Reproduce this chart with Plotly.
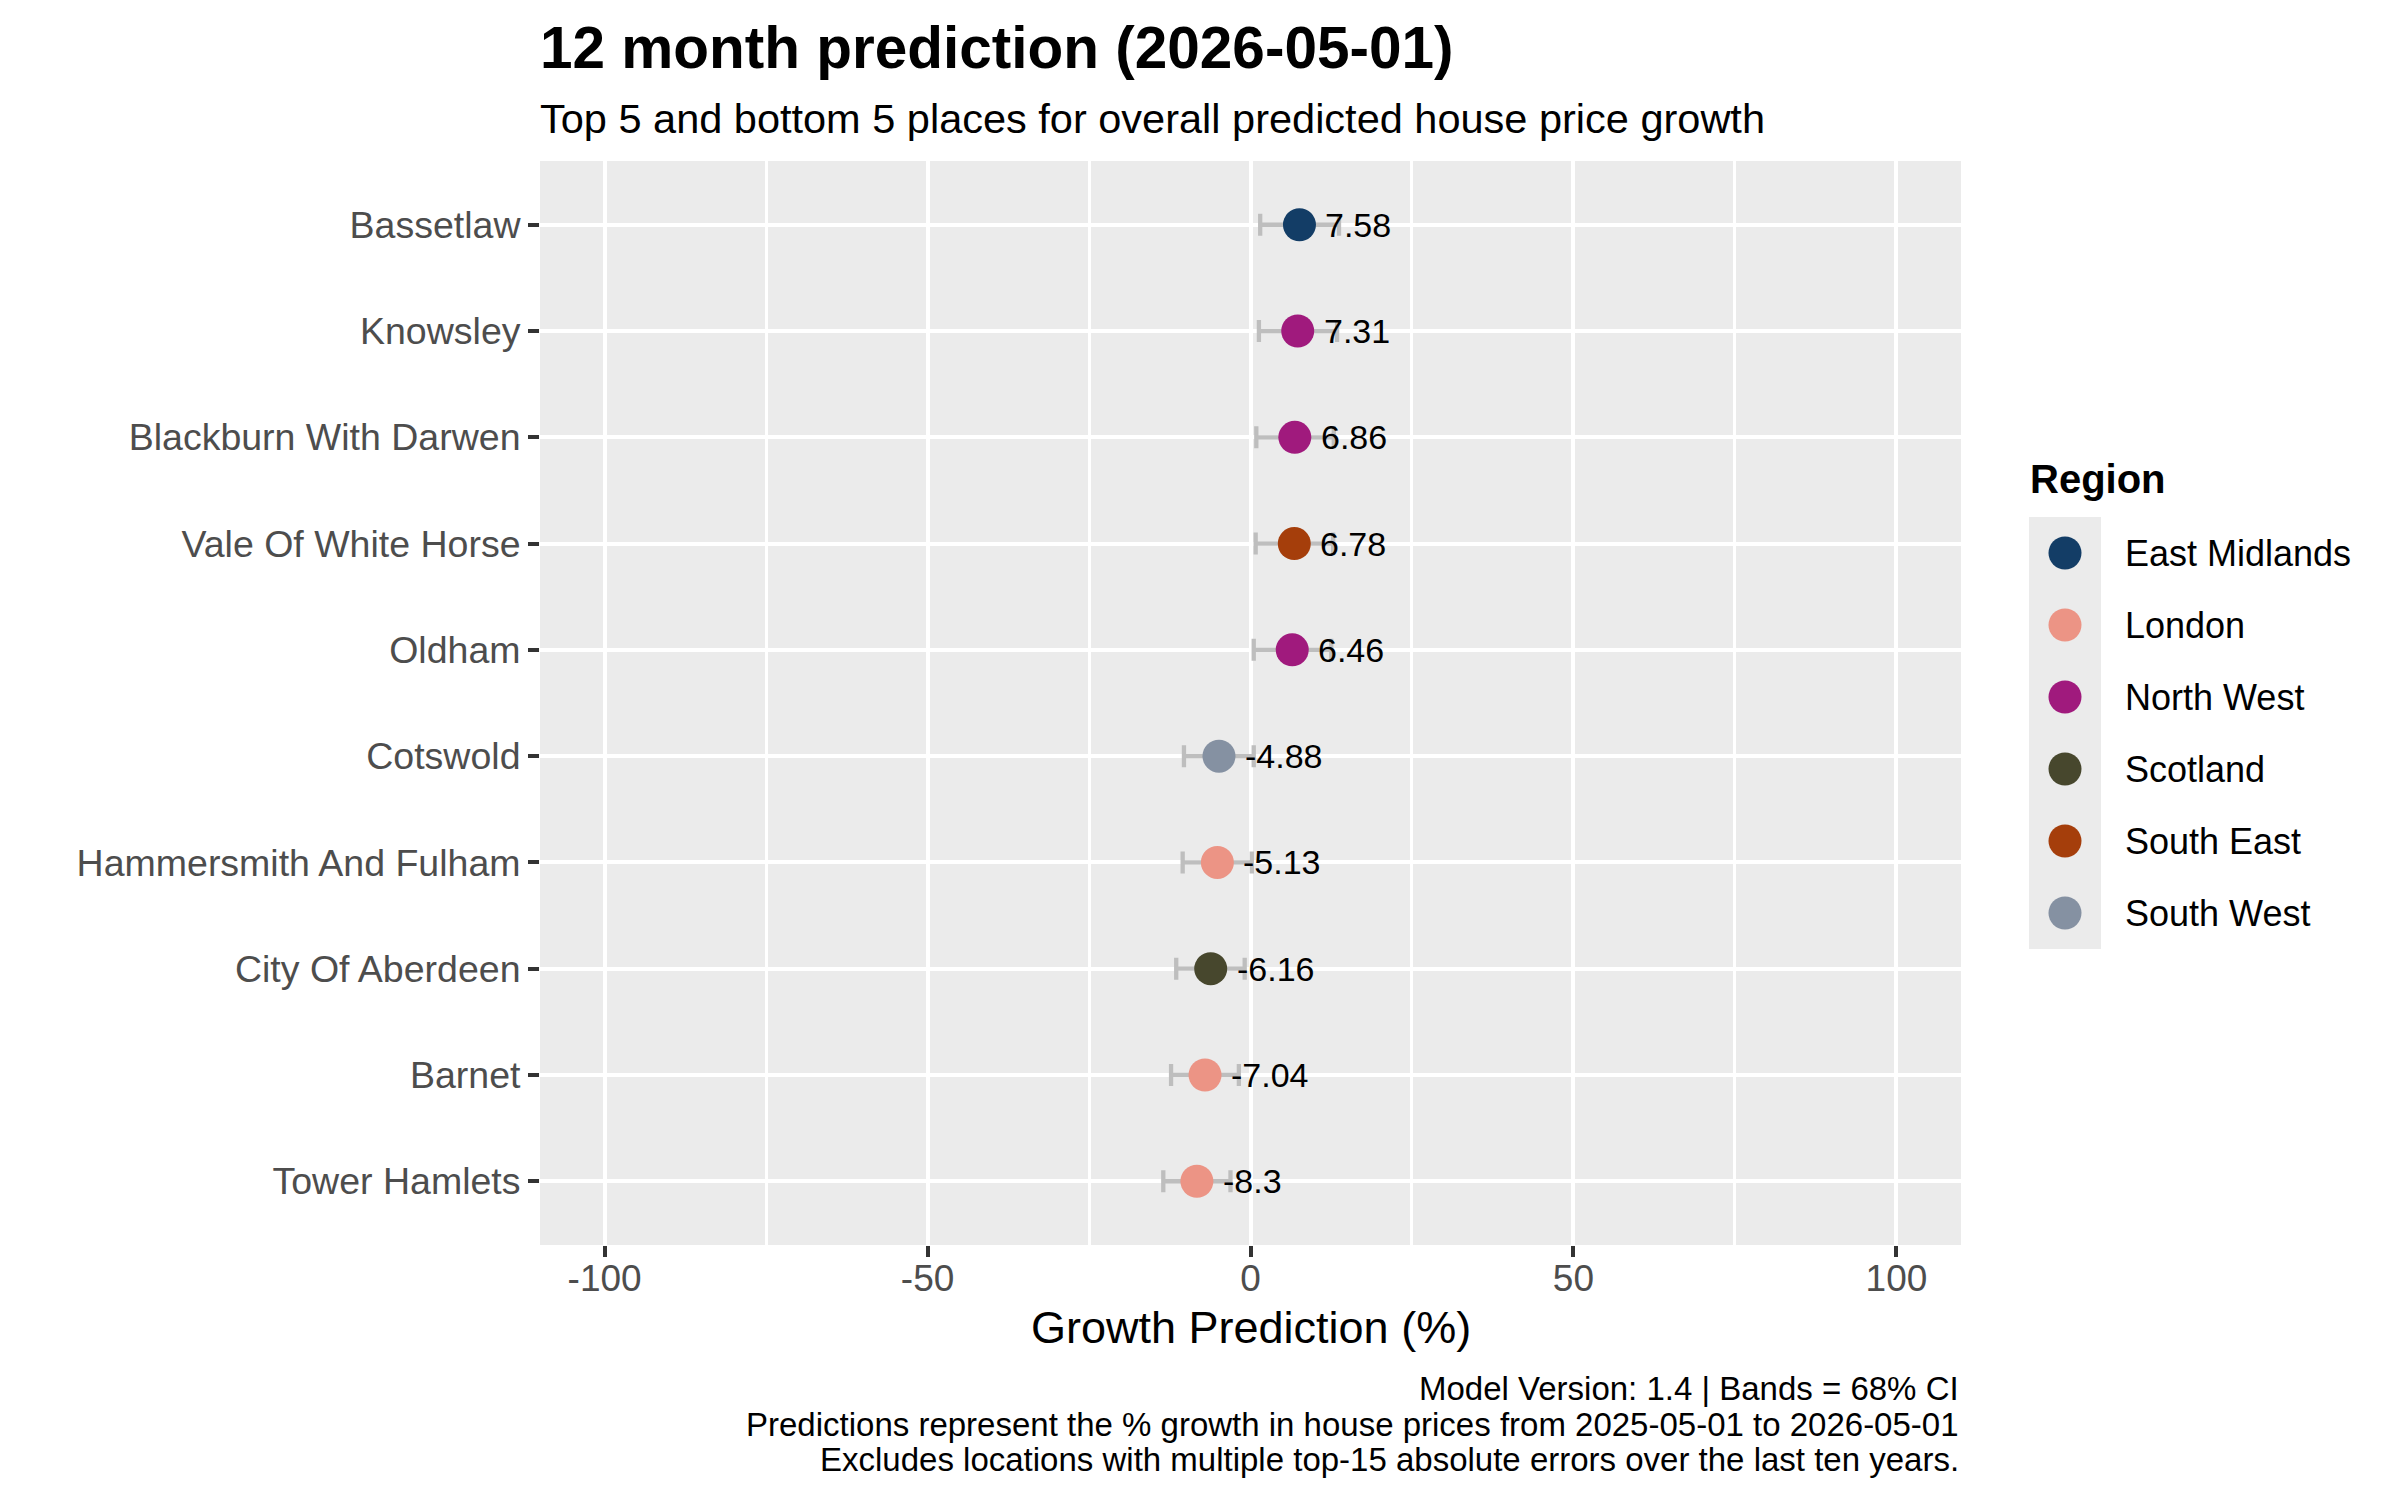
import plotly.graph_objects as go

# data
places = ["Bassetlaw", "Knowsley", "Blackburn With Darwen", "Vale Of White Horse", "Oldham",
          "Cotswold", "Hammersmith And Fulham", "City Of Aberdeen", "Barnet", "Tower Hamlets"]
place_region = ["East Midlands", "North West", "North West", "South East", "North West",
                "South West", "London", "Scotland", "London", "London"]
growth = [7.58, 7.31, 6.86, 6.78, 6.46, -4.88, -5.13, -6.16, -7.04, -8.3]
lower = [1.5, 1.3, 0.9, 0.8, 0.5, -10.3, -10.5, -11.5, -12.3, -13.5]
upper = [13.7, 13.4, 12.9, 12.8, 12.5, 0.5, 0.2, -0.9, -1.8, -3.1]

regions = ["East Midlands", "London", "North West", "Scotland", "South East", "South West"]
region_colours = ["#133D66", "#EC9485", "#A01A7D", "#47472D", "#A53E0B", "#8591A2"]

x_ticks = [-100, -50, 0, 50, 100]
x_tick_text = ["-100", "-50", "0", "50", "100"]
x_minor = [-75, -25, 25, 75]

title = "12 month prediction (2026-05-01)"
subtitle = "Top 5 and bottom 5 places for overall predicted house price growth"
captions = ["Model Version: 1.4 | Bands = 68% CI",
            "Predictions represent the % growth in house prices from 2025-05-01 to 2026-05-01",
            "Excludes locations with multiple top-15 absolute errors over the last ten years."]

FONT = "Liberation Sans"
# page body has an 8px margin, so the figure is drawn 8px smaller and offset
W, H = 2392, 1492
ML, MR, MT, MB = 532, 40, 153, 255
PW = W - ML - MR
PH = H - MT - MB


# helpers: pixel positions measured on the 2400x1500 picture -> paper fractions
def px_x(p):
    return (p - 8 - ML) / PW


def px_y(p):
    return (H - MB - (p - 8)) / PH


colour_of = dict(zip(regions, region_colours))

fig = go.Figure()

for reg in regions:
    idx = [i for i, r in enumerate(place_region) if r == reg]
    if not idx:
        continue
    xs = [growth[i] for i in idx]
    fig.add_trace(go.Scatter(
        x=xs, y=[places[i] for i in idx],
        mode="markers",
        marker=dict(size=33, color=colour_of[reg]),
        error_x=dict(type="data", symmetric=False,
                     array=[upper[i] - growth[i] for i in idx],
                     arrayminus=[growth[i] - lower[i] for i in idx],
                     color="#BEBEBE", thickness=4.3, width=11),
        showlegend=False, hoverinfo="skip",
        xaxis="x", yaxis="y"))

# hand-made legend as a small subplot (keys like ggplot)
fig.add_trace(go.Scatter(
    x=[0] * len(regions), y=regions, mode="markers",
    marker=dict(size=33, color=region_colours),
    showlegend=False, hoverinfo="skip", xaxis="x2", yaxis="y2"))

ann = []
for g, p in zip(growth, places):
    ann.append(dict(x=g, y=p, xref="x", yref="y", text=str(g), showarrow=False,
                    xanchor="left", yanchor="middle", xshift=24,
                    font=dict(family=FONT, size=34, color="black")))

for reg in regions:
    ann.append(dict(x=1, y=reg, xref="x2 domain", yref="y2", text=reg, showarrow=False,
                    xanchor="left", yanchor="middle", xshift=22,
                    font=dict(family=FONT, size=36, color="black")))

ann.append(dict(x=0, y=1, xref="x2 domain", yref="y2 domain", text="<b>Region</b>",
                showarrow=False, xanchor="left", yanchor="middle", yshift=38, xshift=-1,
                font=dict(family=FONT, size=40, color="black")))

ann.append(dict(x=0, y=px_y(48), xref="paper", yref="paper", text="<b>" + title + "</b>",
                showarrow=False, xanchor="left", yanchor="middle", xshift=-2,
                font=dict(family=FONT, size=58.5, color="black")))
ann.append(dict(x=0, y=px_y(118), xref="paper", yref="paper", text=subtitle,
                showarrow=False, xanchor="left", yanchor="middle", xshift=-2,
                font=dict(family=FONT, size=41.5, color="black")))

ann.append(dict(x=0.5, y=px_y(1327), xref="x domain", yref="paper", text="Growth Prediction (%)",
                showarrow=False, xanchor="center", yanchor="middle",
                font=dict(family=FONT, size=45, color="black")))

for c, yp in zip(captions, [1388, 1424, 1459]):
    ann.append(dict(x=1, y=px_y(yp), xref="x domain", yref="paper", text=c,
                    showarrow=False, xanchor="right", yanchor="middle",
                    font=dict(family=FONT, size=33, color="black")))

fig.update_layout(
    width=W, height=H,
    margin=dict(l=ML, r=MR, t=MT, b=MB),
    paper_bgcolor="white", plot_bgcolor="#EBEBEB",
    font=dict(family=FONT, color="black"),
    showlegend=False,
    annotations=ann,
    xaxis=dict(domain=[0, px_x(1961)], range=[-110, 110],
               tickvals=x_ticks, ticktext=x_tick_text,
               ticks="outside", ticklen=11, tickwidth=4, tickcolor="#333333",
               ticklabelstandoff=-10,
               tickfont=dict(family=FONT, size=37, color="#4D4D4D"),
               showgrid=True, gridcolor="white", gridwidth=4,
               minor=dict(tickvals=x_minor, showgrid=True, gridcolor="white",
                          gridwidth=2.5, ticks=""),
               zeroline=False, showline=False, fixedrange=True),
    yaxis=dict(categoryorder="array", categoryarray=places, range=[9.6, -0.6],
               ticks="outside", ticklen=11, tickwidth=4, tickcolor="#333333",
               tickfont=dict(family=FONT, size=37.5, color="#4D4D4D"),
               showgrid=True, gridcolor="white", gridwidth=4,
               zeroline=False, showline=False, fixedrange=True),
    xaxis2=dict(domain=[px_x(2029), px_x(2101)], range=[-1, 1], anchor="y2",
                showgrid=False, zeroline=False, showticklabels=False, ticks="",
                fixedrange=True),
    yaxis2=dict(domain=[px_y(949), px_y(517)], anchor="x2",
                categoryorder="array", categoryarray=regions, range=[5.5, -0.5],
                showgrid=False, zeroline=False, showticklabels=False, ticks="",
                fixedrange=True),
)

fig.write_html("out.html")
